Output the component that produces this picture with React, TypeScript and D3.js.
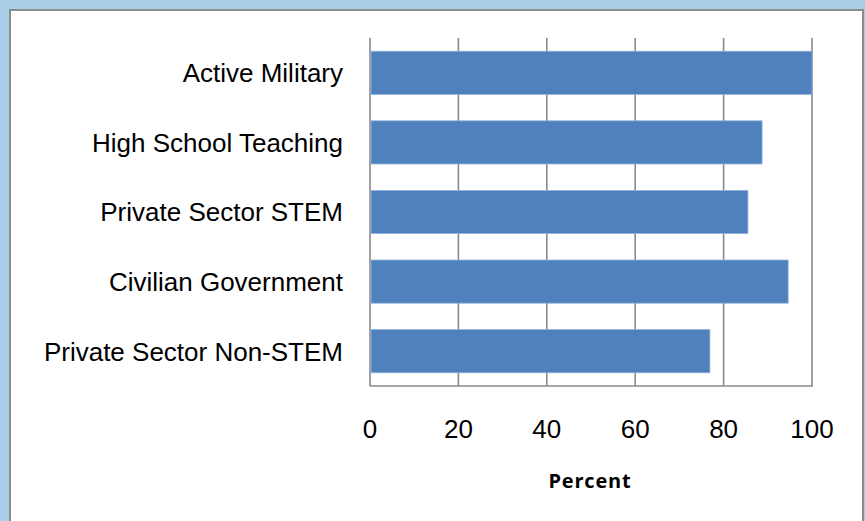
import React from "react";
import * as d3 from "d3";

const categories = [
  "Active Military",
  "High School Teaching",
  "Private Sector STEM",
  "Civilian Government",
  "Private Sector Non-STEM",
];
const values = [100, 88.7, 85.5, 94.6, 76.9];
const xTicks = [0, 20, 40, 60, 80, 100];
const xAxisTitle = "Percent";

const W = 865;
const H = 521;
const plot = { left: 370, right: 812, top: 38, bottom: 386 };

export default function App() {
  const x = d3.scaleLinear().domain([0, 100]).range([plot.left, plot.right]);
  const y = d3
    .scaleBand<string>()
    .domain(categories)
    .range([plot.top, plot.bottom])
    .paddingInner(0.38)
    .paddingOuter(0.19);

  const grid = "#898989";
  const font = "'Liberation Sans', Arial, sans-serif";

  return (
    <svg
      width={W}
      height={H}
      style={{ position: "absolute", left: 0, top: 0, display: "block" }}
    >
      <rect x={0} y={0} width={W} height={H} fill="#AACFE8" />
      <rect x={9} y={9} width={855} height={H} fill="#8C8C8C" />
      <rect x={11} y={11} width={851} height={H} fill="#FFFFFF" />

      {xTicks.map((t) => (
        <line
          key={"g" + t}
          x1={x(t)}
          x2={x(t)}
          y1={plot.top}
          y2={plot.bottom}
          stroke={grid}
          strokeWidth={1.6}
        />
      ))}
      <line
        x1={plot.left}
        x2={plot.right + 1}
        y1={plot.bottom}
        y2={plot.bottom}
        stroke={grid}
        strokeWidth={1.6}
      />

      {categories.map((c, i) => (
        <rect
          key={c}
          x={x(0) + 1}
          y={y(c)!}
          width={x(values[i]) - x(0) - 1}
          height={y.bandwidth()}
          fill="#4F81BD"
          stroke="#8FB0DA"
          strokeWidth={0.8}
        />
      ))}

      {categories.map((c) => (
        <text
          key={"l" + c}
          x={343}
          y={y(c)! + y.bandwidth() / 2}
          dy="0.36em"
          textAnchor="end"
          fontFamily={font}
          fontSize={26}
          fill="#000"
        >
          {c}
        </text>
      ))}

      {xTicks.map((t) => (
        <text
          key={"t" + t}
          x={x(t)}
          y={438}
          textAnchor="middle"
          fontFamily={font}
          fontSize={26}
          fill="#000"
        >
          {t}
        </text>
      ))}

      <text
        x={(plot.left + plot.right) / 2 - 1}
        y={488}
        textAnchor="middle"
        fontFamily="'Open Sans', 'Noto Sans', sans-serif"
        fontWeight="bold"
        fontSize={20}
        letterSpacing={0.8}
        fill="#000"
      >
        {xAxisTitle}
      </text>
    </svg>
  );
}
